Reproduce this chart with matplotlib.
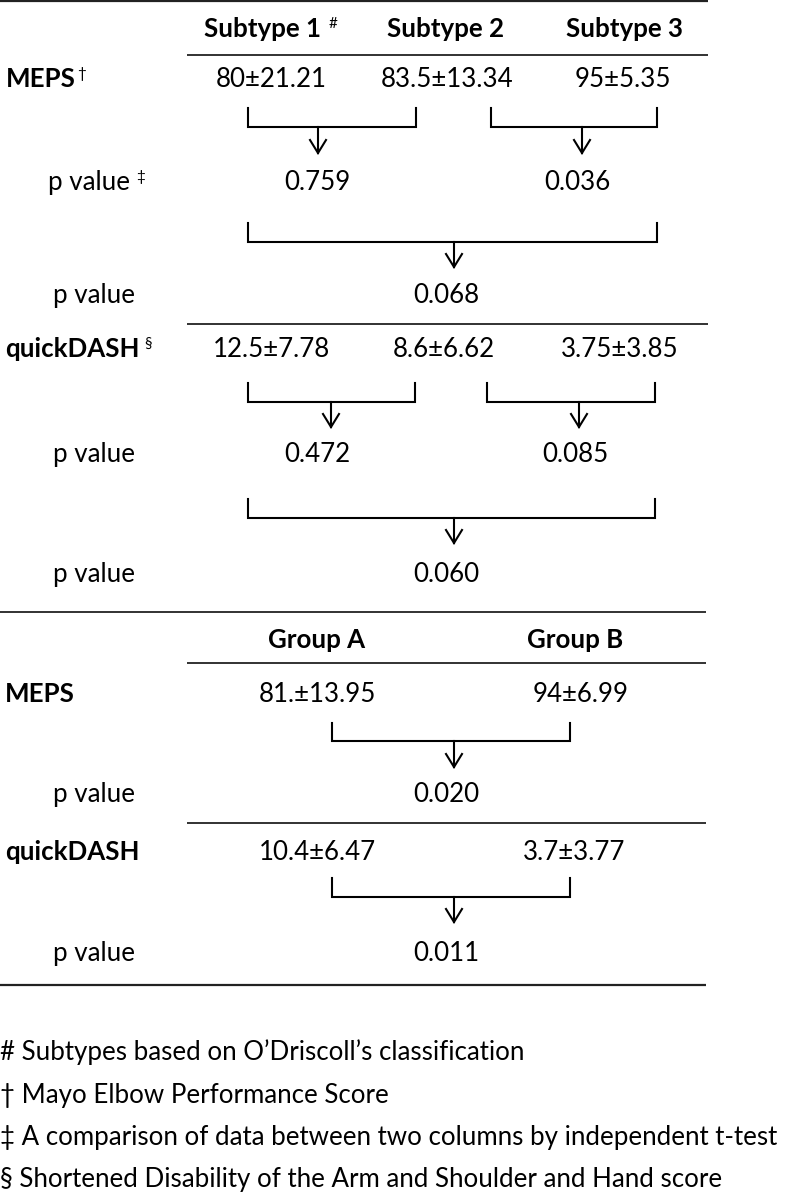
"""Table of MEPS / quickDASH scores with p-value brackets, drawn with matplotlib"""

import matplotlib.pyplot as plt

# table content
subtype_cols = ["Subtype 1", "Subtype 2", "Subtype 3"]
meps_subtype = ["80±21.21", "83.5±13.34", "95±5.35"]
qdash_subtype = ["12.5±7.78", "8.6±6.62", "3.75±3.85"]
meps_pair_p = ["0.759", "0.036"]
meps_all_p = "0.068"
qdash_pair_p = ["0.472", "0.085"]
qdash_all_p = "0.060"

group_cols = ["Group A", "Group B"]
meps_group = ["81.±13.95", "94±6.99"]
meps_group_p = "0.020"
qdash_group = ["10.4±6.47", "3.7±3.77"]
qdash_group_p = "0.011"

footnotes = [
    "# Subtypes based on O\u2019Driscoll\u2019s classification",
    "\u2020 Mayo Elbow Performance Score",
    "\u2021 A comparison of data between two columns by independent t-test",
    "\u00a7 Shortened Disability of the Arm and Shoulder and Hand score",
]

FONT = "Lato"
FONT_SIZE = 18.6
SUP_SIZE = 11
LW_RULE = 1.3
LW_BR = 1.5

plt.rcParams['font.family'] = [FONT, 'DejaVu Sans']

fig = plt.figure(figsize=(7.87, 11.93), dpi=100)
ax = fig.add_axes([0, 0, 1, 1])
ax.set_xlim(0, 787)
ax.set_ylim(1193, 0)
ax.axis('off')
renderer = fig.canvas.get_renderer()


def txt(x, y, s, ha='center', bold=False, size=FONT_SIZE):
    return ax.text(x, y, s, ha=ha, va='baseline', fontsize=size,
                   fontweight='bold' if bold else 'normal', color='black')


def sup(t, s, gap=3, rise=9):
    # superscript placed right after an existing text object
    bb = t.get_window_extent(renderer=renderer)
    x_data = ax.transData.inverted().transform((bb.x1, bb.y0))[0]
    ax.text(x_data + gap, t.get_position()[1] - rise, s, ha='left',
            va='baseline', fontsize=SUP_SIZE, color='black')


def rule(y, x0, x1, lw=LW_RULE):
    ax.plot([x0, x1], [y, y], color='#222222', lw=lw, solid_capstyle='butt')


def bracket(x0, x1, top, mid, ax_x, tip):
    ax.plot([x0, x0, x1, x1], [top, mid, mid, top], color='black',
            lw=LW_BR, solid_joinstyle='miter')
    ax.plot([ax_x, ax_x], [mid, tip], color='black', lw=LW_BR)
    ax.plot([ax_x - 8, ax_x, ax_x + 8], [tip - 13, tip, tip - 13],
            color='black', lw=LW_BR, solid_joinstyle='miter')


# ---- upper table: subtypes ----
rule(1, 0, 708, lw=1.6)
sub_hdr_x = [262, 446, 624]
hdr = [txt(x, 37, s, bold=True) for x, s in zip(sub_hdr_x, subtype_cols)]
sup(hdr[0], "#", gap=8)
rule(55, 187, 708)

val_x = [271, 447, 623]
sup(txt(6, 87, "MEPS", ha='left', bold=True), "\u2020", gap=1)
for x, s in zip(val_x, meps_subtype):
    txt(x, 87, s)

bracket(248, 416, 108, 127, 318, 153)
bracket(491, 657, 108, 127, 582, 153)
sup(txt(48, 190, "p value", ha='left'), "\u2021", gap=6)
for x, s in zip([317, 577], meps_pair_p):
    txt(x, 190, s)

bracket(248, 657, 223, 242, 454, 267)
txt(53, 303, "p value", ha='left')
txt(446, 303, meps_all_p)
rule(324, 187, 708)

val_x2 = [271, 444, 620]
sup(txt(5, 357, "quickDASH", ha='left', bold=True), "\u00a7", gap=5)
for x, s in zip(val_x2, qdash_subtype):
    txt(x, 357, s)

bracket(248, 415, 383, 402, 331, 427)
bracket(487, 655, 383, 402, 579, 427)
txt(53, 462, "p value", ha='left')
for x, s in zip([317, 575], qdash_pair_p):
    txt(x, 462, s)

bracket(248, 655, 499, 518, 454, 543)
txt(53, 582, "p value", ha='left')
txt(446, 582, qdash_all_p)

# ---- lower table: groups ----
rule(612, 0, 706)
for x, s in zip([317, 575], group_cols):
    txt(x, 648, s, bold=True)
rule(663, 187, 706)

txt(5, 702, "MEPS", ha='left', bold=True)
for x, s in zip([317, 581], meps_group):
    txt(x, 702, s)
bracket(332, 570, 723, 741, 454, 767)
txt(53, 802, "p value", ha='left')
txt(446, 802, meps_group_p)
rule(823, 187, 706)

txt(5, 860, "quickDASH", ha='left', bold=True)
for x, s in zip([317, 574], qdash_group):
    txt(x, 860, s)
bracket(332, 570, 878, 897, 454, 922)
txt(53, 961, "p value", ha='left')
txt(446, 961, qdash_group_p)
rule(985, 0, 706, lw=1.6)

# ---- footnotes ----
for y, s in zip([1060, 1103, 1145, 1187], footnotes):
    txt(0, y, s, ha='left')

fig.savefig("out.png", dpi=100)
